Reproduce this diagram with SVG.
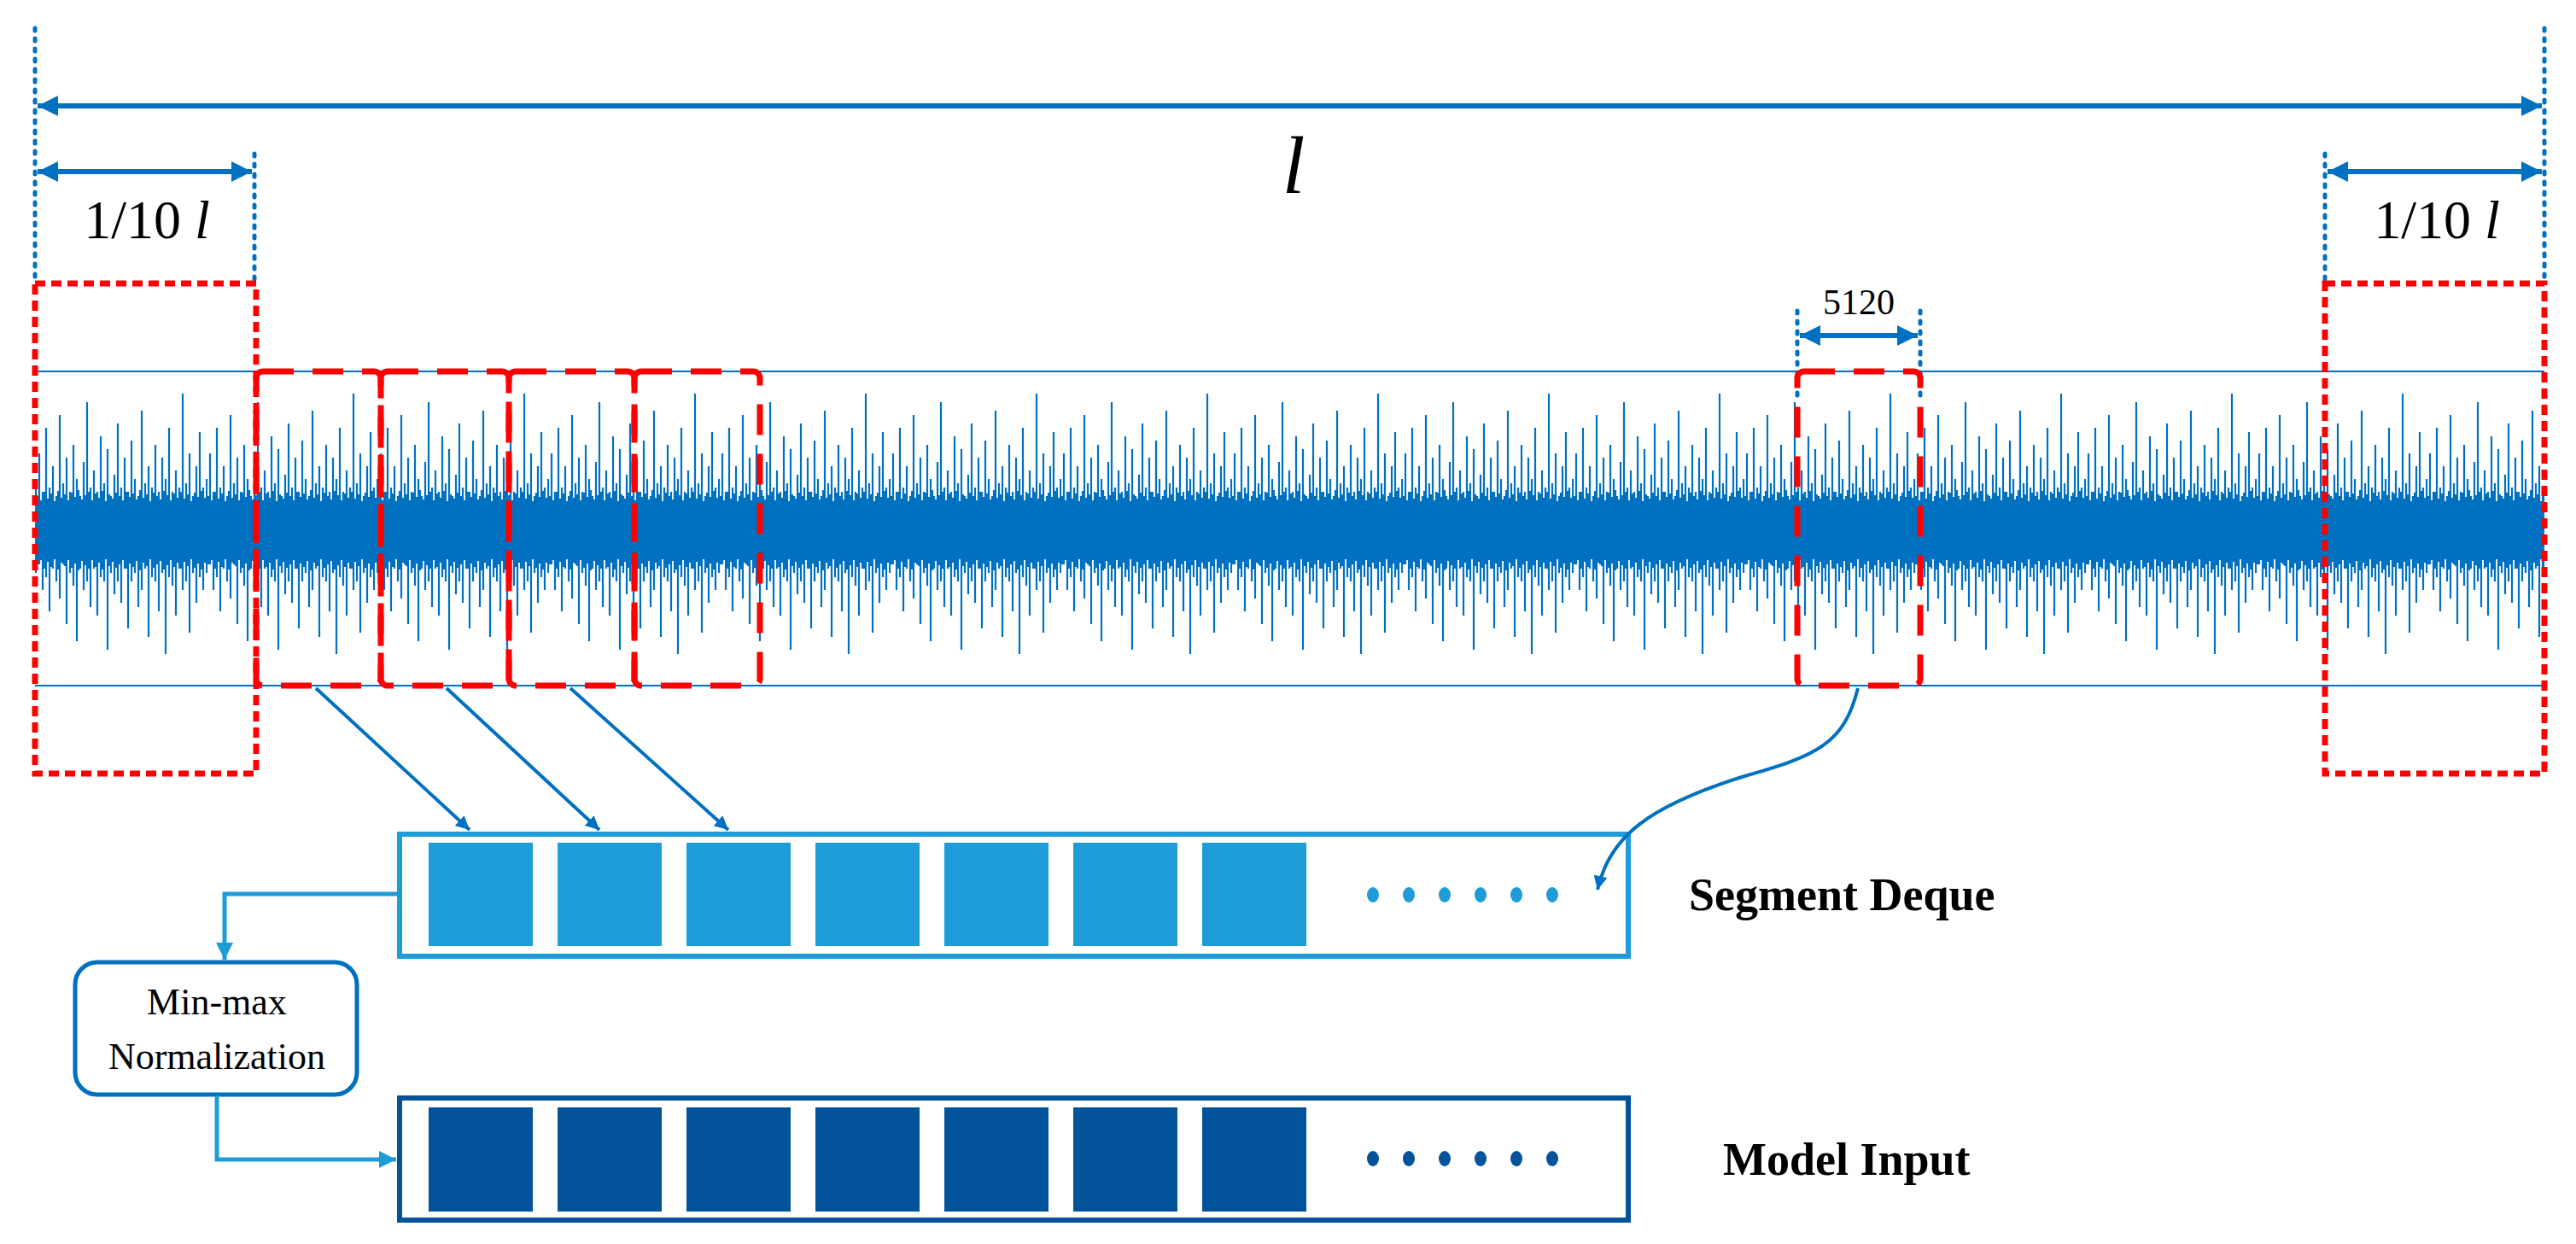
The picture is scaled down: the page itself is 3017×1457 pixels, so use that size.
<svg xmlns="http://www.w3.org/2000/svg" width="3017" height="1457" viewBox="0 0 3017 1457">
<style>
.dot{fill:none;stroke:#0070C0;stroke-width:5;stroke-dasharray:3 9;stroke-linecap:round}
.dim{fill:none;stroke:#0070C0;stroke-width:6}
.rdot{fill:none;stroke:#FF0000;stroke-width:7;stroke-dasharray:12 7}
.rdash{fill:none;stroke:#FF0000;stroke-width:7;stroke-dasharray:36 22}
.hl{stroke:#0070C0;stroke-width:2}
.t{font-family:"Liberation Serif",serif;fill:#000}
.conn{fill:none;stroke:#0070C0;stroke-width:4}
.conn2{fill:none;stroke:#1E9CD7;stroke-width:5}
</style>
<defs>
<marker id="ah" viewBox="0 0 10 10" refX="10" refY="5" markerWidth="5" markerHeight="4" orient="auto-start-reverse" markerUnits="strokeWidth"><path d="M0,0L10,5L0,10z" fill="#0070C0"/></marker>
<marker id="ah2" viewBox="0 0 10 10" refX="10" refY="5" markerWidth="5" markerHeight="4" orient="auto" markerUnits="strokeWidth"><path d="M0,0L10,5L0,10z" fill="#1E9CD7"/></marker>
<pattern id="sig" patternUnits="userSpaceOnUse" x="41" y="0" width="200" height="1457" patternTransform="translate(0,-33)">
<path stroke="#0070C0" stroke-width="2.2" fill="none" d="M1,594V704M5,564V694M9,609V724M13,534V709M17,604V749M21,579V699M25,614V714M29,519V734M33,599V694M37,569V764M41,609V704M45,554V719M49,594V784M53,614V699M57,574V724M61,504V714M65,604V744M69,584V699M73,609V754M77,544V709M81,599V714M85,559V794M89,614V704M93,589V729M97,529V714M101,604V739M105,569V699M109,609V769M113,549V714M117,594V704M121,614V744M125,514V724M129,599V699M133,579V779M137,604V709M141,554V714M145,609V749M149,569V704M153,594V799M157,534V709M161,609V719M165,584V754M169,604V699M173,494V724M177,599V714M181,564V774M185,614V704M189,579V739M193,539V709M197,604V724M3,614V694M7,619V689M11,609V699M15,617V691M19,611V697M23,620V688M27,608V700M31,616V692M35,612V696M39,619V689M43,610V698M47,615V693M51,607V701M55,618V690M59,613V695M63,609V699M67,619V689M71,611V697M75,616V692M79,608V700M83,620V688M87,612V696M91,617V691M95,610V698M99,614V694M103,619V689M107,609V699M111,615V693M115,611V697M119,618V690M123,607V701M127,616V692M131,612V696M135,620V688M139,610V698M143,614V694M147,618V690M151,608V700M155,613V695M159,619V689M163,611V697M167,616V692M171,609V699M175,617V691M179,612V696M183,620V688M187,610V698M191,615V693M195,608V700M199,616V692"/>
</pattern>
</defs>

<g id="signal">
<line class="hl" x1="41" y1="435" x2="2980" y2="435"/>
<line class="hl" x1="41" y1="803" x2="2980" y2="803"/>
<rect x="41" y="440" width="2939" height="360" fill="url(#sig)"/>
<rect x="41" y="598" width="2939" height="46" fill="#0070C0"/>
</g>

<g id="dimensions">
<line class="dot" x1="41" y1="33" x2="41" y2="332"/>
<line class="dot" x1="2980" y1="33" x2="2980" y2="332"/>
<line class="dot" x1="298" y1="180" x2="298" y2="332"/>
<line class="dot" x1="2723" y1="180" x2="2723" y2="332"/>
<line class="dim" x1="44" y1="124" x2="2977" y2="124" marker-start="url(#ah)" marker-end="url(#ah)"/>
<line class="dim" x1="44" y1="201" x2="295" y2="201" marker-start="url(#ah)" marker-end="url(#ah)"/>
<line class="dim" x1="2726" y1="201" x2="2977" y2="201" marker-start="url(#ah)" marker-end="url(#ah)"/>
<text class="t" x="1515" y="226" font-size="96" font-style="italic" text-anchor="middle">l</text>
<text class="t" x="172" y="279" font-size="64" text-anchor="middle">1/10 <tspan font-style="italic">l</tspan></text>
<text class="t" x="2854" y="279" font-size="64" text-anchor="middle">1/10 <tspan font-style="italic">l</tspan></text>
<line class="dot" x1="2105" y1="364" x2="2105" y2="470"/>
<line class="dot" x1="2249" y1="364" x2="2249" y2="470"/>
<line class="dim" x1="2108" y1="393" x2="2246" y2="393" stroke-width="5" marker-start="url(#ah)" marker-end="url(#ah)"/>
<text class="t" x="2177" y="368" font-size="42" text-anchor="middle">5120</text>
</g>

<g id="boxes">
<rect class="rdot" x="41" y="332" width="259" height="574"/>
<rect class="rdot" x="2723" y="332" width="257" height="574"/>
<rect class="rdash" x="300" y="435" width="146" height="368" rx="8"/>
<rect class="rdash" x="446" y="435" width="150" height="368" rx="8"/>
<rect class="rdash" x="596" y="435" width="147" height="368" rx="8"/>
<rect class="rdash" x="743" y="435" width="147" height="368" rx="8"/>
<rect class="rdash" x="2105" y="435" width="144" height="368" rx="8"/>
</g>

<g id="deque">
<rect x="468" y="977" width="1439" height="143" fill="#fff" stroke="#1E9CD7" stroke-width="6"/>
<g fill="#1E9CD7">
<rect x="502" y="987" width="122" height="121"/><rect x="653" y="987" width="122" height="121"/><rect x="804" y="987" width="122" height="121"/><rect x="955" y="987" width="122" height="121"/><rect x="1106" y="987" width="122" height="121"/><rect x="1257" y="987" width="122" height="121"/><rect x="1408" y="987" width="122" height="121"/>
<ellipse cx="1608" cy="1048" rx="7" ry="9"/><ellipse cx="1650" cy="1048" rx="7" ry="9"/><ellipse cx="1692" cy="1048" rx="7" ry="9"/><ellipse cx="1734" cy="1048" rx="7" ry="9"/><ellipse cx="1776" cy="1048" rx="7" ry="9"/><ellipse cx="1818" cy="1048" rx="7" ry="9"/>
</g>
<text class="t" x="1978" y="1066" font-size="54" font-weight="bold">Segment Deque</text>
</g>

<g id="model-input">
<rect x="468" y="1286" width="1439" height="143" fill="#fff" stroke="#03539A" stroke-width="6"/>
<g fill="#03539A">
<rect x="502" y="1297" width="122" height="122"/><rect x="653" y="1297" width="122" height="122"/><rect x="804" y="1297" width="122" height="122"/><rect x="955" y="1297" width="122" height="122"/><rect x="1106" y="1297" width="122" height="122"/><rect x="1257" y="1297" width="122" height="122"/><rect x="1408" y="1297" width="122" height="122"/>
<ellipse cx="1608" cy="1357" rx="7" ry="9"/><ellipse cx="1650" cy="1357" rx="7" ry="9"/><ellipse cx="1692" cy="1357" rx="7" ry="9"/><ellipse cx="1734" cy="1357" rx="7" ry="9"/><ellipse cx="1776" cy="1357" rx="7" ry="9"/><ellipse cx="1818" cy="1357" rx="7" ry="9"/>
</g>
<text class="t" x="2018" y="1376" font-size="54" font-weight="bold">Model Input</text>
</g>

<g id="normalization">
<rect x="88" y="1127" width="330" height="155" rx="26" fill="#fff" stroke="#0070C0" stroke-width="5"/>
<text class="t" x="254" y="1188" font-size="44" text-anchor="middle">Min-max</text>
<text class="t" x="254" y="1252" font-size="44" text-anchor="middle">Normalization</text>
</g>

<g id="connectors">
<line class="conn" x1="370" y1="806" x2="550" y2="972" marker-end="url(#ah)"/>
<line class="conn" x1="523" y1="806" x2="702" y2="972" marker-end="url(#ah)"/>
<line class="conn" x1="668" y1="806" x2="853" y2="972" marker-end="url(#ah)"/>
<path class="conn" d="M2176,806C2160,870 2130,885 2040,910C1930,945 1885,980 1871,1042" marker-end="url(#ah)"/>
<path class="conn2" d="M466,1047H263V1124" marker-end="url(#ah2)"/>
<path class="conn2" d="M254,1283V1358H464" marker-end="url(#ah2)"/>
</g>
</svg>
